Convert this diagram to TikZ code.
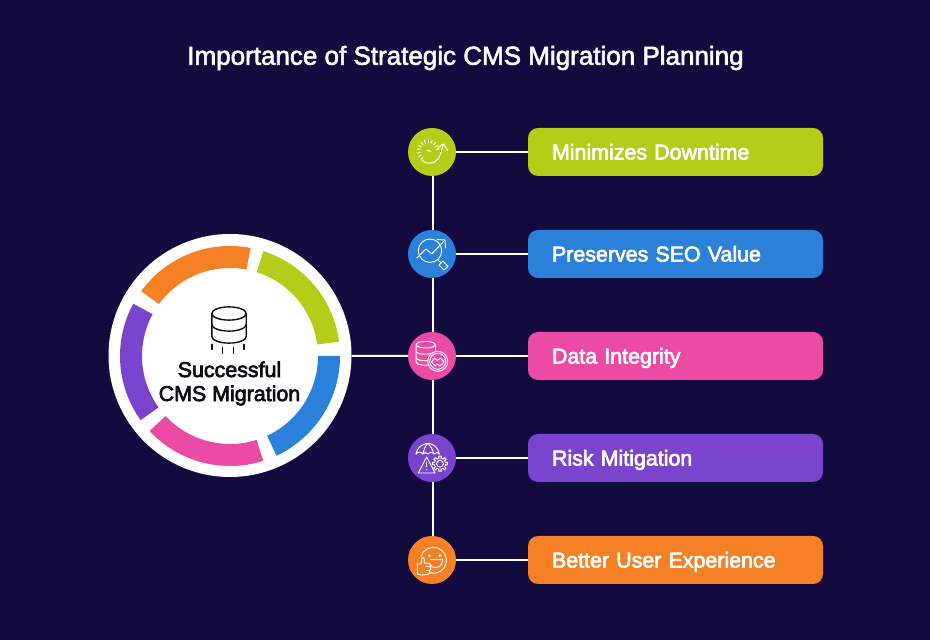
\documentclass[tikz,border=0pt]{standalone}
\usepackage{fontspec}
\setmainfont{Liberation Sans}
\newfontfamily\medf[FakeBold=2.2]{Liberation Sans}
\newfontfamily\semif[FakeBold=3]{Liberation Sans}
\definecolor{bgc}{HTML}{130A40}
\definecolor{gr}{HTML}{B5CC18}
\definecolor{bl}{HTML}{2B80DA}
\definecolor{pk}{HTML}{EC4BA5}
\definecolor{pu}{HTML}{7A44CE}
\definecolor{og}{HTML}{F68025}
\definecolor{ink}{HTML}{0B0B14}
\tikzset{
  dot/.style={circle,draw=none,minimum size=48pt,inner sep=0pt},
  lab/.style={rectangle,draw=none,rounded corners=10pt,minimum width=295pt,minimum height=48pt,text width=247pt,inner xsep=24pt,inner ysep=0pt,align=left,text=white,text height=15pt,text depth=0pt,font=\semif\fontsize{21.4}{24}\selectfont},
  link/.style={draw=white,line width=2pt},
  ico/.style={draw=white,line width=0.95pt,line cap=round,line join=round},
  blk/.style={draw=ink,line width=1.4pt,line cap=round,line join=round},
}
\usetikzlibrary{calc}
\newcommand{\segm}[3]{\fill[#1] (230,284)++(#2:110pt) arc[start angle=#2,end angle=#3,radius=110pt] -- ($(230,284)+(#3:88pt)$) arc[start angle=#3,end angle=#2,radius=88pt] -- cycle;}
\begin{document}
\begin{tikzpicture}[x=1pt,y=1pt]
\useasboundingbox (0,0) rectangle (930,640);
\fill[bgc] (0,0) rectangle (930,640);
\node[text=white,font=\medf\fontsize{26}{30}\selectfont] (title) at (465.5,582) {Importance of Strategic CMS Migration Planning};
% hub
\node[circle,fill=white,draw=none,minimum size=243pt,inner sep=0pt] (hub) at (230,284.5) {};
\segm{bl}{0}{-65}
\segm{pk}{-72.4}{-137}
\segm{pu}{-144.3}{-208.4}
\segm{og}{143.9}{79.2}
\segm{gr}{72.3}{7.5}
\node[align=center,text=ink,font=\semif\fontsize{21.4}{24}\selectfont] (hubtext) at (229.5,256.5) {Successful\\CMS Migration};
% database icon
\begin{scope}[shift={(229,326.5)},yscale=-1,blk]
  \draw (0,0) ellipse [x radius=17.2,y radius=6.6];
  \draw (-17.2,0) -- (-17.2,23) arc[start angle=180,end angle=0,x radius=17.2,y radius=6.6] -- (17.2,0);
  \draw (-17.2,11) arc[start angle=180,end angle=0,x radius=17.2,y radius=6.6];
  \draw (-17.2,31) -- (-17.2,36);
  \draw (-6.3,34) -- (-6.3,40);
  \draw (4.3,34) -- (4.3,40);
  \draw (15,31) -- (15,36);
\end{scope}
% circles and boxes
\node[dot,fill=gr] (c1) at (432,488) {};
\node[dot,fill=bl] (c2) at (432,386) {};
\node[dot,fill=pk] (c3) at (432,284) {};
\node[dot,fill=pu] (c4) at (432,182) {};
\node[dot,fill=og] (c5) at (432,80) {};
\node[lab,fill=gr] (b1) at (675.5,488) {Minimizes Downtime};
\node[lab,fill=bl] (b2) at (675.5,386) {Preserves SEO Value};
\node[lab,fill=pk] (b3) at (675.5,284) {Data Integrity};
\node[lab,fill=pu] (b4) at (675.5,182) {Risk Mitigation};
\node[lab,fill=og] (b5) at (675.5,80) {Better User Experience};
\draw[link] ($(c1.south)+(0.8,0)$) -- ($(c2.north)+(0.8,0)$);
\draw[link] ($(c2.south)+(0.8,0)$) -- ($(c3.north)+(0.8,0)$);
\draw[link] ($(c3.south)+(0.8,0)$) -- ($(c4.north)+(0.8,0)$);
\draw[link] ($(c4.south)+(0.8,0)$) -- ($(c5.north)+(0.8,0)$);
\draw[link] (c1) -- (b1);
\draw[link] (c2) -- (b2);
\draw[link] (c3) -- (b3);
\draw[link] (c4) -- (b4);
\draw[link] (c5) -- (b5);
\draw[link] (hub) -- (c3);
% icon 1: gauge
\begin{scope}[shift={(c1.center)},yscale=-1,ico]
  \foreach \a in {110,130,...,330}{
    \draw ($(-3.7,-1)+(\a+20:8.2)$) -- ($(-3.7,-1)+(\a+20:11.2)$);
  }
  \fill[white] (-4,-1.5) circle (1.2);
  \draw (-4,-1.5) -- (-1.2,-0.6);
  \draw (-10,8.5) .. controls (-6,12.5) and (2,12.5) .. (6,7) .. controls (8.5,3) and (10,-2) .. (11.3,-8);
  \draw (5.5,-3.8) -- (11.3,-8) -- (15.7,-1.5);
\end{scope}
% icon 2: trend and lens
\begin{scope}[shift={(c2.center)},yscale=-1,ico]
  \draw (-2,-3.3) circle (11.7);
  \draw (-15.3,4) -- (-6,-5) -- (-0.3,0) -- (12.5,-13.5);
  \draw (5,-14.5) -- (13,-14) -- (13.5,-6);
  \draw (5.5,5.5) -- (8.5,8.5);
  \draw (7,11) -- (11,7) -- (16,12.5) -- (12,16) -- cycle;
\end{scope}
% icon 3: data badge
\begin{scope}[shift={(c3.center)},yscale=-1,ico]
  \draw (-6.3,-11.3) ellipse [x radius=9.5,y radius=3.3];
  \draw (-15.8,-11.3) -- (-15.8,6) .. controls (-15.8,8.5) and (-8,10) .. (-3,9);
  \draw (3.2,-11.3) -- (3.2,-5);
  \draw (-15.8,-5) .. controls (-15.8,-1) and (-3,-1) .. (3,-4);
  \draw (-15.8,1) .. controls (-15.8,5) and (-8,5) .. (-5,4.5);
  \fill[pk] (5.7,5.3) circle (10);
  \draw (5.7,5.3) circle (10);
  \draw (5.7,5.3) circle (8);
  \draw (-0.5,6) -- (2.5,2) -- (5.5,4.5) -- (8.5,2) -- (12,6) -- (8,10) -- (5.5,8) -- (3,10) -- cycle;
\end{scope}
% icon 4: risk
\begin{scope}[shift={(c4.center)},yscale=-1,ico]
  \draw (-16,-4) .. controls (-15,-11) and (-9,-14.5) .. (-4.3,-14.5) .. controls (1,-14.5) and (6,-11) .. (7.3,-4);
  \draw (-16,-4) .. controls (-14,-6.5) and (-11,-6.5) .. (-9,-4) .. controls (-7.5,-6) and (-6,-6) .. (-4.3,-4) .. controls (-2.5,-6) and (0,-6.5) .. (2,-4) .. controls (4,-6) and (6,-6) .. (7.3,-4);
  \draw (-9,-4) .. controls (-8,-10) and (-6,-13) .. (-4.3,-14.5) .. controls (-2.5,-13) and (1,-9) .. (2,-4);
  \draw (-5.3,-1) -- (-13.7,15) -- (3,15) -- cycle;
  \draw (-5.3,4.5) -- (-5.3,9);
  \fill[white] (-5.3,11.7) circle (0.7);
  \fill[pu] (8,5.7) circle (7.5);
  \draw (8,5.7) circle (3.4);
  \foreach \a in {0,45,...,315}{
    \draw ($(8,5.7)+(\a-10:5.6)$) -- ($(8,5.7)+(\a-10:7.6)$) -- ($(8,5.7)+(\a+10:7.6)$) -- ($(8,5.7)+(\a+10:5.6)$);
    \draw ($(8,5.7)+(\a+10:5.6)$) arc[start angle=\a+10,end angle=\a+35,radius=5.6];
  }
\end{scope}
% icon 5: smile
\begin{scope}[shift={(c5.center)},yscale=-1,ico]
  \draw (-11,-3.5) arc[start angle=197,end angle=470,radius=13];
  \fill[white] (-2.7,-4.3) circle (1.5);
  \fill[white] (8,-4.3) circle (1.5);
  \draw (-3.7,-0.3) -- (10.7,-0.3) .. controls (10.7,5) and (7,7.5) .. (3.5,7.5) .. controls (0,7.5) and (-3.7,5) .. (-3.7,-0.3) -- cycle;
  \fill[og] (-15.5,-3) rectangle (-2,15.5);
  \draw (-15,4) -- (-11,4) -- (-10,-2) .. controls (-9,-3) and (-7,-2.5) .. (-7.5,0) -- (-8,3) -- (-2.5,3.5) .. controls (-1,4) and (-1,6) .. (-2,6.5) .. controls (-0.5,8) and (-1,10) .. (-2.5,10.5) .. controls (-1.5,12) and (-2,14) .. (-4,14.5) -- (-11,15) -- (-15,14);
  \draw (-15,4) -- (-15,14);
  \draw (-2,6.5) -- (-6,6.5);
  \draw (-2.5,10.5) -- (-6,10.5);
\end{scope}
\end{tikzpicture}
\end{document}
